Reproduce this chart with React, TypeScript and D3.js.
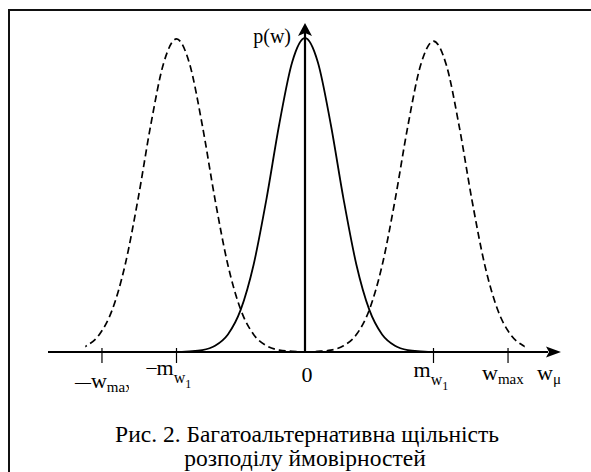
import React from "react";
import * as d3 from "d3";

// ---- data ----
const xDomain: [number, number] = [-2, 2];
const yDomain: [number, number] = [0, 1];
const curveExtent: [number, number] = [-1.71, 1.71];
// common bell-shaped profile: offset from centre -> relative height
const profileOffsets = [-2.8, -1.0, -0.9, -0.8, -0.7, -0.6, -0.5, -0.4, -0.3, -0.2, -0.1, 0, 0.1, 0.2, 0.3, 0.4, 0.5, 0.6, 0.7, 0.8, 0.9, 1.0, 2.8];
const profileHeights = [0, 0, 0.002, 0.006, 0.02, 0.056, 0.135, 0.278, 0.487, 0.726, 0.923, 1, 0.923, 0.726, 0.487, 0.278, 0.135, 0.056, 0.02, 0.006, 0.002, 0, 0];
const curveNames = ["p(w)", "p(w − m)", "p(w + m)"];
const curveCenters = [0, -1, 1];
const curveAmplitudes = [1, 0.997, 0.99];
const tickValues = [-1.58, -1, 1, 1.58];
const tickMain = ["w", "m", "m", "w"];
const tickSub = ["max", "w", "w", "max"];
const tickSubSub = ["", "1", "1", ""];
const tickPrefix = ["—", "–", "", ""];
const zeroLabel = "0";
const xAxisMain = "w";
const xAxisSub = "μ";
const yAxisLabel = "p(w)";
const captionLines = ["Рис. 2. Багатоальтернативна щільність", "розподілу ймовірностей"];

const W = 591;
const H = 472;
const FONT = "'Liberation Serif', 'Times New Roman', serif";

export default function App() {
  const x = d3.scaleLinear().domain(xDomain).range([48, 562]);
  const y = d3.scaleLinear().domain(yDomain).range([352, 38]);
  const axisY = y(0);
  const x0 = x(0);

  const line = d3
    .line<[number, number]>()
    .x((d) => x(d[0]))
    .y((d) => y(d[1]))
    .curve(d3.curveMonotoneX);

  const curvePaths = curveCenters.map((c, i) =>
    line(profileOffsets.map((o, j) => [c + o, profileHeights[j] * curveAmplitudes[i]] as [number, number])) || ""
  );

  // per-label layout (style, not data)
  const labelLayout = [
    { dx: -27, base: 388, clipRight: 129 },
    { dx: -30, base: 375, clipRight: null },
    { dx: -20, base: 377, clipRight: null },
    { dx: -26, base: 380, clipRight: null },
  ];

  return (
    <svg
      width={W}
      height={H}
      style={{ position: "absolute", left: 0, top: 0, background: "#fff" }}
      fontFamily={FONT}
    >
      <defs>
        <clipPath id="curveClip">
          <rect x={x(curveExtent[0])} y={0} width={x(curveExtent[1]) - x(curveExtent[0])} height={H} />
        </clipPath>
        <clipPath id="wmaxClip">
          <rect x={0} y={0} width={129} height={H} />
        </clipPath>
      </defs>
      <rect x={0} y={0} width={W} height={H} fill="#fff" />
      {/* frame */}
      <rect x={9} y={10} width={700} height={600} fill="none" stroke="#111" strokeWidth={2} />

      {/* curves */}
      <g clipPath="url(#curveClip)" fill="none" stroke="#000">
        {curvePaths.map((d, i) => (
          <path
            key={curveNames[i]}
            d={d}
            strokeWidth={i === 0 ? 1.8 : 1.7}
            strokeDasharray={i === 0 ? undefined : "7,4"}
          />
        ))}
      </g>

      {/* x axis */}
      <line x1={x(xDomain[0])} y1={axisY} x2={x(xDomain[1]) - 14} y2={axisY} stroke="#000" strokeWidth={2.2} />
      <path
        d={`M${x(xDomain[1]) - 1},${axisY} L${x(xDomain[1]) - 16},${axisY - 5.5} L${x(xDomain[1]) - 13},${axisY} L${x(xDomain[1]) - 16},${axisY + 5.5} Z`}
        fill="#000"
      />
      {/* y axis */}
      <line x1={x0} y1={axisY} x2={x0} y2={32} stroke="#000" strokeWidth={2.2} />
      <path d={`M${x0},23 L${x0 - 7},36 L${x0},33 L${x0 + 7},36 Z`} fill="#000" />

      {/* ticks */}
      {tickValues.map((v) => (
        <line key={v} x1={x(v)} x2={x(v)} y1={348} y2={363} stroke="#000" strokeWidth={1.2} />
      ))}

      {/* tick labels */}
      {tickValues.map((v, i) => {
        const L = labelLayout[i];
        return (
          <g key={"lab" + v} clipPath={L.clipRight ? "url(#wmaxClip)" : undefined}>
            <text x={x(v) + L.dx} y={L.base} fontSize={22} fill="#000">
              {tickPrefix[i] ? (
                <tspan fontSize={tickPrefix[i] === "—" ? 16 : 20} dy={-1}>
                  {tickPrefix[i]}
                </tspan>
              ) : null}
              <tspan dy={tickPrefix[i] ? 1 : 0}>{tickMain[i]}</tspan>
              <tspan fontSize={tickSubSub[i] ? 16 : 15} dy={tickSubSub[i] ? 8 : 4}>
                {tickSub[i]}
              </tspan>
              {tickSubSub[i] ? (
                <tspan fontSize={12} dy={5}>
                  {tickSubSub[i]}
                </tspan>
              ) : null}
            </text>
          </g>
        );
      })}

      <text x={307} y={382} fontSize={22} textAnchor="middle" fill="#000">
        {zeroLabel}
      </text>
      <text x={537} y={380} fontSize={22} fill="#000">
        {xAxisMain}
        <tspan fontSize={15} dy={4}>
          {xAxisSub}
        </tspan>
      </text>
      <text x={291} y={43} fontSize={20} textAnchor="end" fill="#000">
        {yAxisLabel}
      </text>

      {/* caption */}
      <text x={307} y={442} fontSize={23.5} textAnchor="middle" fill="#000">
        {captionLines[0]}
      </text>
      <text x={305} y={466} fontSize={23.5} textAnchor="middle" fill="#000">
        {captionLines[1]}
      </text>
    </svg>
  );
}
